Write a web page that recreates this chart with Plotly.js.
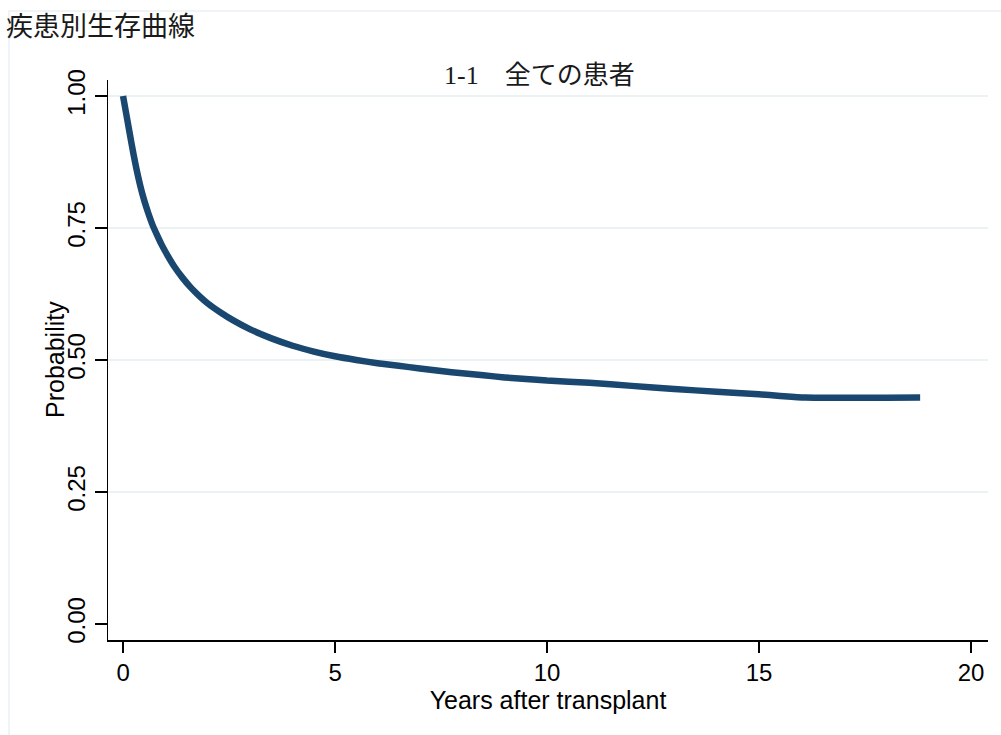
<!DOCTYPE html>
<html>
<head>
<meta charset="utf-8">
<script src="https://cdn.plot.ly/plotly-3.0.1.min.js"></script>
<style>
  html, body { margin: 0; padding: 0; background: #ffffff; }
  #chart { width: 1001px; height: 735px; }
</style>
</head>
<body>
<div id="chart"></div>
<script>
// Kaplan-Meier survival estimate
const years = [0, 0.1, 0.2, 0.3, 0.4, 0.5, 0.6, 0.7, 0.8, 0.9, 1.0, 1.2, 1.4, 1.6, 1.8, 2.0, 2.3, 2.6, 3.0, 3.5, 4.0, 4.5, 5.0, 5.5, 6.0, 6.5, 7.0, 7.5, 8.0, 8.5, 9.0, 9.5, 10, 11, 12, 13, 14, 15, 15.5, 16.1, 18.8];
const survival = [1.0, 0.955, 0.91, 0.868, 0.832, 0.802, 0.777, 0.755, 0.737, 0.72, 0.705, 0.678, 0.656, 0.637, 0.621, 0.607, 0.59, 0.575, 0.558, 0.541, 0.527, 0.516, 0.507, 0.5, 0.494, 0.489, 0.484, 0.479, 0.475, 0.471, 0.467, 0.464, 0.461, 0.457, 0.451, 0.445, 0.44, 0.435, 0.432, 0.429, 0.429];

const xTicks = [0, 5, 10, 15, 20];
const yTicks = [0, 0.25, 0.5, 0.75, 1.0];
const yTickLabels = ['0.00', '0.25', '0.50', '0.75', '1.00'];

const mainTitle = '疾患別生存曲線';
const subTitle = '1-1　全ての患者';
const xTitle = 'Years after transplant';
const yTitle = 'Probability';

const sansFont = 'Liberation Sans, Arial, sans-serif';
const cjkSans = 'Noto Sans CJK JP, sans-serif';
const serifFont = 'Liberation Serif, Noto Sans CJK JP, serif';

const trace = {
  x: years,
  y: survival,
  type: 'scatter',
  mode: 'lines',
  line: { color: '#1a476f', width: 6.5, shape: 'spline', smoothing: 0.6 },
  hoverinfo: 'skip'
};

const layout = {
  width: 1001,
  height: 735,
  margin: { l: 108, r: 13, t: 80, b: 95 },
  paper_bgcolor: '#ffffff',
  plot_bgcolor: '#ffffff',
  showlegend: false,
  font: { family: sansFont, color: '#000000', size: 24 },
  title: {
    text: mainTitle,
    font: { family: cjkSans, size: 27, color: '#1a1a1a' },
    xref: 'container', yref: 'container',
    x: 6 / 1001, xanchor: 'left',
    y: 1 - 27 / 735, yanchor: 'middle'
  },
  xaxis: {
    range: [-0.355, 20.4],
    tickvals: xTicks,
    ticktext: xTicks.map(String),
    ticks: 'outside', ticklen: 11, tickwidth: 1.5, tickcolor: '#000000',
    showline: true, linecolor: '#000000', linewidth: 1.5,
    showgrid: false, zeroline: false,
    tickfont: { family: sansFont, size: 24 },
    title: { text: xTitle, font: { family: sansFont, size: 25 }, standoff: 2 },
    fixedrange: true
  },
  yaxis: {
    range: [-0.0303, 1.0303],
    tickvals: yTicks,
    ticktext: yTickLabels,
    tickangle: -90,
    ticks: 'outside', ticklen: 12, tickwidth: 1.5, tickcolor: '#000000',
    showline: true, linecolor: '#000000', linewidth: 1.5,
    showgrid: true, gridcolor: '#eaf2f3', gridwidth: 1.5,
    zeroline: true, zerolinecolor: '#ffffff', zerolinewidth: 2,
    tickfont: { family: sansFont, size: 24 },
    fixedrange: true
  },
  annotations: [{
    text: subTitle,
    xref: 'paper', yref: 'paper',
    x: (539 - 108) / 880, y: 1 + (80 - 75) / 560,
    xanchor: 'center', yanchor: 'middle',
    showarrow: false,
    font: { family: serifFont, size: 26, color: '#1a1a1a' }
  }, {
    text: yTitle,
    xref: 'paper', yref: 'paper',
    x: (55 - 108) / 880, y: (640 - 360) / 560,
    xanchor: 'center', yanchor: 'middle',
    textangle: -90,
    showarrow: false,
    font: { family: sansFont, size: 25, color: '#000000' }
  }],
  shapes: [{
    type: 'rect', xref: 'paper', yref: 'paper',
    x0: (9 - 108) / 880, x1: 1.2,
    y0: -0.5, y1: 1 + (80 - 11) / 560,
    line: { color: '#eaf2f3', width: 1.5 },
    fillcolor: 'rgba(0,0,0,0)',
    layer: 'below'
  }]
};

Plotly.newPlot('chart', [trace], layout, { staticPlot: true, displayModeBar: false });
</script>
</body>
</html>
